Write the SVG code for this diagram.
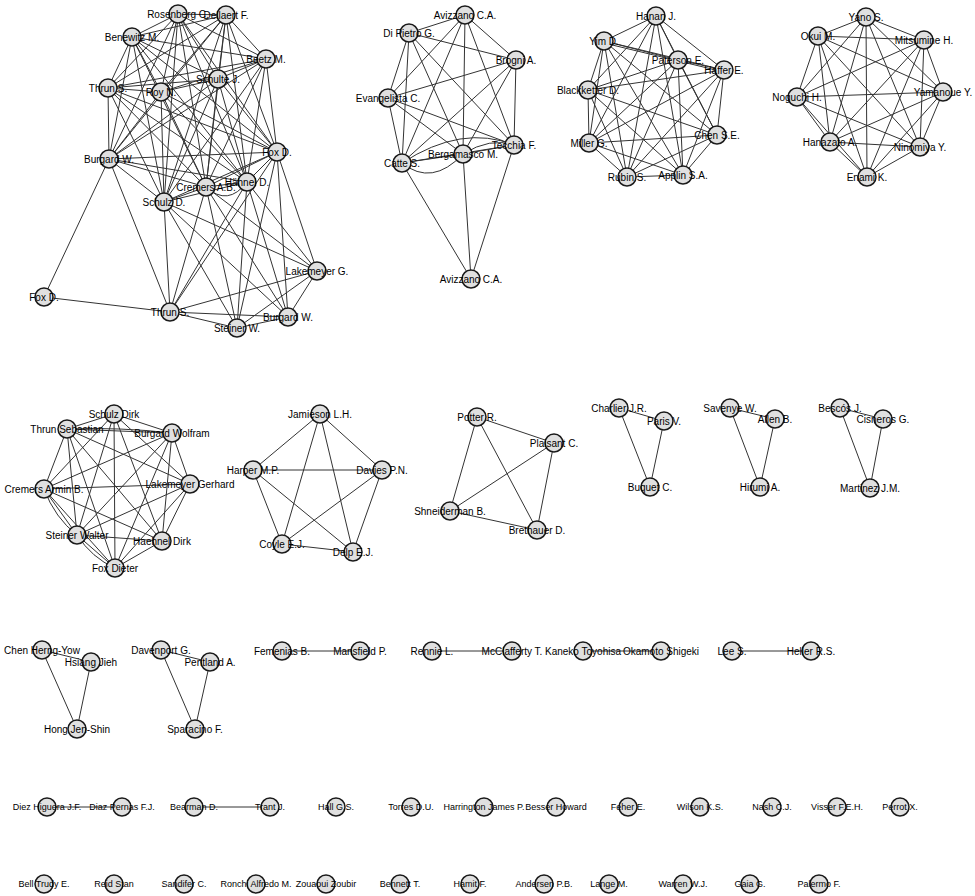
<svg xmlns="http://www.w3.org/2000/svg" width="975" height="896" viewBox="0 0 975 896">
<style>
.e path{fill:none;stroke:#333;stroke-width:1}
.n circle{fill:#e0e0e0;stroke:#1a1a1a;stroke-width:1.5}
.n text{font-family:"Liberation Sans",Arial,sans-serif;font-size:10px;fill:#000;text-anchor:middle}
.s text{font-size:9px}
</style>
<rect width="975" height="896" fill="#fff"/>
<g class="e" id="connectors">
<path d="M178 14L226 15M178 14L132 37M178 14L266 59M178 14L218 79M178 14L108 88M178 14L161 92M178 14L109 159M178 14L277 152M178 14L247 182M178 14L206 187M178 14L164 202"/>
<path d="M226 15L132 37M226 15L266 59M226 15L218 79M226 15L108 88M226 15L161 92M226 15L109 159M226 15L277 152M226 15L247 182M226 15L206 187M226 15L164 202"/>
<path d="M132 37L266 59M132 37L218 79M132 37L108 88M132 37L161 92M132 37L109 159M132 37L277 152M132 37L247 182M132 37L206 187M132 37L164 202"/>
<path d="M266 59L218 79M266 59L108 88M266 59L161 92M266 59L109 159M266 59L277 152M266 59L247 182M266 59L206 187M266 59L164 202"/>
<path d="M218 79L108 88M218 79L161 92M218 79L109 159M218 79L277 152M218 79L247 182M218 79L206 187M218 79L164 202"/>
<path d="M108 88L161 92M108 88L109 159M108 88L277 152M108 88L247 182M108 88L206 187M108 88L164 202"/>
<path d="M161 92L109 159M161 92L277 152M161 92L247 182M161 92L206 187M161 92L164 202"/>
<path d="M109 159L277 152M109 159L247 182M109 159L206 187M109 159L164 202M277 152L247 182M277 152L206 187M277 152L164 202M247 182L206 187M247 182L164 202M206 187L164 202"/>
<path d="M206 187Q228 207 247 182"/>
<path d="M170 312L164 202M170 312L206 187M170 312L247 182M170 312L277 152M237 328L164 202M237 328L206 187M237 328L247 182M237 328L277 152M288 317L164 202M288 317L206 187M288 317L247 182M288 317L277 152M317 271L164 202M317 271L206 187M317 271L247 182M317 271L277 152"/>
<path d="M170 312L237 328M170 312L288 317M170 312L317 271M237 328L288 317M237 328L317 271M288 317L317 271M109 159L44 297M109 159L170 312M44 297L170 312"/>
<path d="M465 15L409 33M465 15L516 60M465 15L388 98M465 15L514 145M465 15L463 154M465 15L402 163M409 33L516 60M409 33L388 98M409 33L514 145M409 33L463 154M409 33L402 163"/>
<path d="M516 60L388 98M516 60L514 145M516 60L463 154M516 60L402 163M388 98L514 145M388 98L463 154M388 98L402 163M514 145L463 154M514 145L402 163M463 154L402 163"/>
<path d="M471 279L402 163M471 279L463 154M471 279L514 145M402 163Q432 187 463 154M402 163Q462 124 514 145M463 154Q490 137 514 145"/>
<path d="M656 16L604 41M656 16L678 60M656 16L724 70M656 16L588 90M656 16L717 135M656 16L589 143M656 16L627 177M656 16L683 175"/>
<path d="M604 41L678 60M604 41L724 70M604 41L588 90M604 41L717 135M604 41L589 143M604 41L627 177M604 41L683 175M604 43L724 72"/>
<path d="M678 60L724 70M678 60L588 90M678 60L717 135M678 60L589 143M678 60L627 177M678 60L683 175"/>
<path d="M724 70L588 90M724 70L717 135M724 70L589 143M724 70L627 177M724 70L683 175"/>
<path d="M588 90L717 135M588 90L589 143M588 90L627 177M588 90L683 175M717 135L589 143M717 135L627 177M717 135L683 175M589 143L627 177M589 143L683 175M627 177L683 175"/>
<path d="M866 17L818 36M866 17L924 40M866 17L943 92M866 17L797 97M866 17L830 142M866 17L920 147M866 17L867 177"/>
<path d="M818 36L924 40M818 36L943 92M818 36L797 97M818 36L830 142M818 36L920 147M818 36L867 177"/>
<path d="M924 40L943 92M924 40L797 97M924 40L830 142M924 40L920 147M924 40L867 177"/>
<path d="M943 92L797 97M943 92L830 142M943 92L920 147M943 92L867 177M797 97L830 142M797 97L920 147M797 97L867 177M830 142L920 147M830 142L867 177M920 147L867 177"/>
<path d="M114 414L67 429M114 414L172 433M114 414L44 489M114 414L190 484M114 414L77 535M114 414L162 541M114 414L115 568"/>
<path d="M67 429L172 433M67 429L44 489M67 429L190 484M67 429L77 535M67 429L162 541M67 429L115 568"/>
<path d="M172 433L44 489M172 433L190 484M172 433L77 535M172 433L162 541M172 433L115 568"/>
<path d="M44 489L190 484M44 489L77 535M44 489L162 541M44 489L115 568M190 484L77 535M190 484L162 541M190 484L115 568M77 535L162 541M77 535L115 568M162 541L115 568"/>
<path d="M77 535Q92 558 115 568M44 489Q55 518 77 535M67 429Q120 427 172 433"/>
<path d="M320 414L253 470M320 414L382 470M320 414L282 544M320 414L353 552M253 470L382 470M253 470L282 544M253 470L353 552M382 470L282 544M382 470L353 552M282 544L353 552"/>
<path d="M477 417L554 443M477 417L450 511M477 417L537 530M554 443L450 511M554 443L537 530M450 511L537 530"/>
<path d="M619 408L664 421M619 408L650 487M664 421L650 487M730 408L775 419M730 408L760 487M775 419L760 487M840 408L883 419M840 408L870 488M883 419L870 488"/>
<path d="M42 650L91 662M42 650L77 729M91 662L77 729M161 650L210 662M161 650L195 729M210 662L195 729"/>
<path d="M282 651L360 651M432 651L512 651M583 651L661 651M732 651L811 651M47 807L122 807M194 807L270 807"/>
</g>
<g class="n">
<g id="n-rosenberg"><circle cx="178" cy="14" r="9"/><text x="178" y="17.5">Rosenberg C.</text></g>
<g id="n-dellaert"><circle cx="226" cy="15" r="9"/><text x="226" y="18.5">Dellaert F.</text></g>
<g id="n-benewitz"><circle cx="132" cy="37" r="9"/><text x="132" y="40.5">Benewitz M.</text></g>
<g id="n-beetz"><circle cx="266" cy="59" r="9"/><text x="266" y="62.5">Beetz M.</text></g>
<g id="n-schulte"><circle cx="218" cy="79" r="9"/><text x="218" y="82.5">Schulte J.</text></g>
<g id="n-thrun1"><circle cx="108" cy="88" r="9"/><text x="108" y="91.5">Thrun S.</text></g>
<g id="n-roy"><circle cx="161" cy="92" r="9"/><text x="161" y="95.5">Roy N.</text></g>
<g id="n-burgard1"><circle cx="109" cy="159" r="9"/><text x="109" y="162.5">Burgard W.</text></g>
<g id="n-fox1"><circle cx="277" cy="152" r="9"/><text x="277" y="155.5">Fox D.</text></g>
<g id="n-haehnel"><circle cx="247" cy="182" r="9"/><text x="247" y="185.5">Hähnel D.</text></g>
<g id="n-cremers"><circle cx="206" cy="187" r="9"/><text x="206" y="190.5">Cremers A.B.</text></g>
<g id="n-schulz"><circle cx="164" cy="202" r="9"/><text x="164" y="205.5">Schulz D.</text></g>
<g id="n-fox2"><circle cx="44" cy="297" r="9"/><text x="44" y="300.5">Fox D.</text></g>
<g id="n-thrun2"><circle cx="170" cy="312" r="9"/><text x="170" y="315.5">Thrun S.</text></g>
<g id="n-lakemeyer"><circle cx="317" cy="271" r="9"/><text x="317" y="274.5">Lakemeyer G.</text></g>
<g id="n-burgard2"><circle cx="288" cy="317" r="9"/><text x="288" y="320.5">Burgard W.</text></g>
<g id="n-steiner"><circle cx="237" cy="328" r="9"/><text x="237" y="331.5">Steiner W.</text></g>

<g id="n-avizzano1"><circle cx="465" cy="15" r="9"/><text x="465" y="18.5">Avizzano C.A.</text></g>
<g id="n-dipietro"><circle cx="409" cy="33" r="9"/><text x="409" y="36.5">Di Pietro G.</text></g>
<g id="n-brogni"><circle cx="516" cy="60" r="9"/><text x="516" y="63.5">Brogni A.</text></g>
<g id="n-evangelista"><circle cx="388" cy="98" r="9"/><text x="388" y="101.5">Evangelista C.</text></g>
<g id="n-tecchia"><circle cx="514" cy="145" r="9"/><text x="514" y="148.5">Tecchia F.</text></g>
<g id="n-bergamasco"><circle cx="463" cy="154" r="9"/><text x="463" y="157.5">Bergamasco M.</text></g>
<g id="n-catte"><circle cx="402" cy="163" r="9"/><text x="402" y="166.5">Catte S.</text></g>
<g id="n-avizzano2"><circle cx="471" cy="279" r="9"/><text x="471" y="282.5">Avizzano C.A.</text></g>

<g id="n-hanan"><circle cx="656" cy="16" r="9"/><text x="656" y="19.5">Hanan J.</text></g>
<g id="n-yim"><circle cx="604" cy="41" r="9"/><text x="604" y="44.5">Yim D.</text></g>
<g id="n-paterson"><circle cx="678" cy="60" r="9"/><text x="678" y="63.5">Paterson E.</text></g>
<g id="n-haffer"><circle cx="724" cy="70" r="9"/><text x="724" y="73.5">Haffer E.</text></g>
<g id="n-blackketter"><circle cx="588" cy="90" r="9"/><text x="588" y="93.5">Blackketter D.</text></g>
<g id="n-chen"><circle cx="717" cy="135" r="9"/><text x="717" y="138.5">Chen S.E.</text></g>
<g id="n-miller"><circle cx="589" cy="143" r="9"/><text x="589" y="146.5">Miller G.</text></g>
<g id="n-rubin"><circle cx="627" cy="177" r="9"/><text x="627" y="180.5">Rubin S.</text></g>
<g id="n-applin"><circle cx="683" cy="175" r="9"/><text x="683" y="178.5">Applin S.A.</text></g>

<g id="n-yano"><circle cx="866" cy="17" r="9"/><text x="866" y="20.5">Yano S.</text></g>
<g id="n-okui"><circle cx="818" cy="36" r="9"/><text x="818" y="39.5">Okui M.</text></g>
<g id="n-mitsumine"><circle cx="924" cy="40" r="9"/><text x="924" y="43.5">Mitsumine H.</text></g>
<g id="n-yamanoue"><circle cx="943" cy="92" r="9"/><text x="943" y="95.5">Yamanoue Y.</text></g>
<g id="n-noguchi"><circle cx="797" cy="97" r="9"/><text x="797" y="100.5">Noguchi H.</text></g>
<g id="n-hanazato"><circle cx="830" cy="142" r="9"/><text x="830" y="145.5">Hanazato A.</text></g>
<g id="n-ninomiya"><circle cx="920" cy="147" r="9"/><text x="920" y="150.5">Ninomiya Y.</text></g>
<g id="n-enami"><circle cx="867" cy="177" r="9"/><text x="867" y="180.5">Enami K.</text></g>

<g id="n-schulzdirk"><circle cx="114" cy="414" r="9"/><text x="114" y="417.5">Schulz Dirk</text></g>
<g id="n-thrunseb"><circle cx="67" cy="429" r="9"/><text x="67" y="432.5">Thrun Sebastian</text></g>
<g id="n-burgardwol"><circle cx="172" cy="433" r="9"/><text x="172" y="436.5">Burgard Wolfram</text></g>
<g id="n-cremersarm"><circle cx="44" cy="489" r="9"/><text x="44" y="492.5">Cremers Armin B.</text></g>
<g id="n-lakemeyerger"><circle cx="190" cy="484" r="9"/><text x="190" y="487.5">Lakemeyer Gerhard</text></g>
<g id="n-steinerwal"><circle cx="77" cy="535" r="9"/><text x="77" y="538.5">Steiner Walter</text></g>
<g id="n-haehneldirk"><circle cx="162" cy="541" r="9"/><text x="162" y="544.5">Haehnel Dirk</text></g>
<g id="n-foxdieter"><circle cx="115" cy="568" r="9"/><text x="115" y="571.5">Fox Dieter</text></g>

<g id="n-jamieson"><circle cx="320" cy="414" r="9"/><text x="320" y="417.5">Jamieson L.H.</text></g>
<g id="n-harper"><circle cx="253" cy="470" r="9"/><text x="253" y="473.5">Harper M.P.</text></g>
<g id="n-davies"><circle cx="382" cy="470" r="9"/><text x="382" y="473.5">Davies P.N.</text></g>
<g id="n-coyle"><circle cx="282" cy="544" r="9"/><text x="282" y="547.5">Coyle E.J.</text></g>
<g id="n-delp"><circle cx="353" cy="552" r="9"/><text x="353" y="555.5">Delp E.J.</text></g>

<g id="n-potter"><circle cx="477" cy="417" r="9"/><text x="477" y="420.5">Potter R.</text></g>
<g id="n-plaisant"><circle cx="554" cy="443" r="9"/><text x="554" y="446.5">Plaisant C.</text></g>
<g id="n-shneiderman"><circle cx="450" cy="511" r="9"/><text x="450" y="514.5">Shneiderman B.</text></g>
<g id="n-brethauer"><circle cx="537" cy="530" r="9"/><text x="537" y="533.5">Brethauer D.</text></g>

<g id="n-charlier"><circle cx="619" cy="408" r="9"/><text x="619" y="411.5">Charlier J.R.</text></g>
<g id="n-paris"><circle cx="664" cy="421" r="9"/><text x="664" y="424.5">Paris V.</text></g>
<g id="n-buquet"><circle cx="650" cy="487" r="9"/><text x="650" y="490.5">Buquet C.</text></g>
<g id="n-savenye"><circle cx="730" cy="408" r="9"/><text x="730" y="411.5">Savenye W.</text></g>
<g id="n-allen"><circle cx="775" cy="419" r="9"/><text x="775" y="422.5">Allen B.</text></g>
<g id="n-hirumi"><circle cx="760" cy="487" r="9"/><text x="760" y="490.5">Hirumi A.</text></g>
<g id="n-bescos"><circle cx="840" cy="408" r="9"/><text x="840" y="411.5">Bescós J.</text></g>
<g id="n-cisneros"><circle cx="883" cy="419" r="9"/><text x="883" y="422.5">Cisneros G.</text></g>
<g id="n-martinez"><circle cx="870" cy="488" r="9"/><text x="870" y="491.5">Martinez J.M.</text></g>

<g id="n-chenhy"><circle cx="42" cy="650" r="9"/><text x="42" y="653.5">Chen Herng-Yow</text></g>
<g id="n-hsiang"><circle cx="91" cy="662" r="9"/><text x="91" y="665.5">Hsiang Jieh</text></g>
<g id="n-hong"><circle cx="77" cy="729" r="9"/><text x="77" y="732.5">Hong Jen-Shin</text></g>
<g id="n-davenport"><circle cx="161" cy="650" r="9"/><text x="161" y="653.5">Davenport G.</text></g>
<g id="n-pentland"><circle cx="210" cy="662" r="9"/><text x="210" y="665.5">Pentland A.</text></g>
<g id="n-sparacino"><circle cx="195" cy="729" r="9"/><text x="195" y="732.5">Sparacino F.</text></g>
<g id="n-femenias"><circle cx="282" cy="651" r="9"/><text x="282" y="654.5">Femenias B.</text></g>
<g id="n-mansfield"><circle cx="360" cy="651" r="9"/><text x="360" y="654.5">Mansfield P.</text></g>
<g id="n-rennie"><circle cx="432" cy="651" r="9"/><text x="432" y="654.5">Rennie L.</text></g>
<g id="n-mcclafferty"><circle cx="512" cy="651" r="9"/><text x="512" y="654.5">McClafferty T.</text></g>
<g id="n-kaneko"><circle cx="583" cy="651" r="9"/><text x="583" y="654.5">Kaneko Toyohisa</text></g>
<g id="n-okamoto"><circle cx="661" cy="651" r="9"/><text x="661" y="654.5">Okamoto Shigeki</text></g>
<g id="n-lee"><circle cx="732" cy="651" r="9"/><text x="732" y="654.5">Lee S.</text></g>
<g id="n-heller"><circle cx="811" cy="651" r="9"/><text x="811" y="654.5">Heller R.S.</text></g>
</g>
<g class="n s">
<g id="n-diez"><circle cx="47" cy="807" r="9"/><text x="47" y="810">Diez Higuera J.F.</text></g>
<g id="n-diaz"><circle cx="122" cy="807" r="9"/><text x="122" y="810">Diaz Pernas F.J.</text></g>
<g id="n-bearman"><circle cx="194" cy="807" r="9"/><text x="194" y="810">Bearman D.</text></g>
<g id="n-trant"><circle cx="270" cy="807" r="9"/><text x="270" y="810">Trant J.</text></g>
<g id="n-hall"><circle cx="336" cy="807" r="9"/><text x="336" y="810">Hall G.S.</text></g>
<g id="n-torres"><circle cx="411" cy="807" r="9"/><text x="411" y="810">Torres D.U.</text></g>
<g id="n-harrington"><circle cx="484" cy="807" r="9"/><text x="484" y="810">Harrington James P.</text></g>
<g id="n-besser"><circle cx="556" cy="807" r="9"/><text x="556" y="810">Besser Howard</text></g>
<g id="n-feher"><circle cx="628" cy="807" r="9"/><text x="628" y="810">Feher E.</text></g>
<g id="n-wilson"><circle cx="700" cy="807" r="9"/><text x="700" y="810">Wilson K.S.</text></g>
<g id="n-nash"><circle cx="772" cy="807" r="9"/><text x="772" y="810">Nash C.J.</text></g>
<g id="n-visser"><circle cx="837" cy="807" r="9"/><text x="837" y="810">Visser F.E.H.</text></g>
<g id="n-perrot"><circle cx="900" cy="807" r="9"/><text x="900" y="810">Perrot X.</text></g>
<g id="n-bell"><circle cx="44" cy="884" r="9"/><text x="44" y="887">Bell Trudy E.</text></g>
<g id="n-reid"><circle cx="114" cy="884" r="9"/><text x="114" y="887">Reid Stan</text></g>
<g id="n-sandifer"><circle cx="184" cy="884" r="9"/><text x="184" y="887">Sandifer C.</text></g>
<g id="n-ronchi"><circle cx="256" cy="884" r="9"/><text x="256" y="887">Ronchi Alfredo M.</text></g>
<g id="n-zouaoui"><circle cx="326" cy="884" r="9"/><text x="326" y="887">Zouaoui Zoubir</text></g>
<g id="n-bennett"><circle cx="400" cy="884" r="9"/><text x="400" y="887">Bennett T.</text></g>
<g id="n-hamit"><circle cx="470" cy="884" r="9"/><text x="470" y="887">Hamit F.</text></g>
<g id="n-andersen"><circle cx="544" cy="884" r="9"/><text x="544" y="887">Andersen P.B.</text></g>
<g id="n-lange"><circle cx="609" cy="884" r="9"/><text x="609" y="887">Lange M.</text></g>
<g id="n-warren"><circle cx="683" cy="884" r="9"/><text x="683" y="887">Warren W.J.</text></g>
<g id="n-gaia"><circle cx="750" cy="884" r="9"/><text x="750" y="887">Gaia G.</text></g>
<g id="n-palermo"><circle cx="819" cy="884" r="9"/><text x="819" y="887">Palermo F.</text></g>
</g>
</svg>
